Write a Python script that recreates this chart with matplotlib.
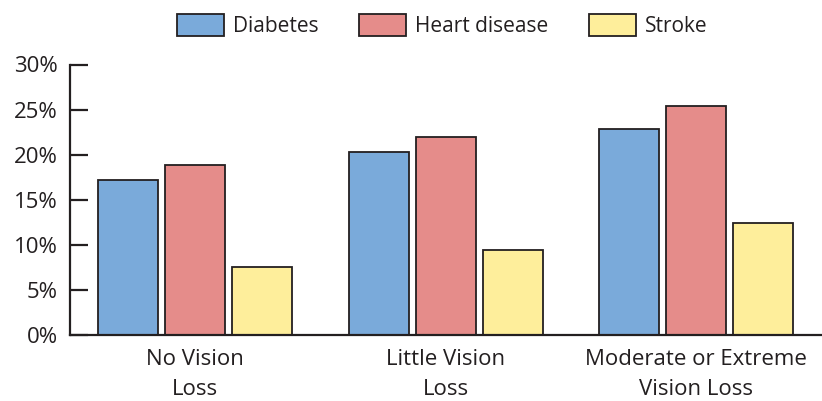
import matplotlib
matplotlib.use("Agg")
import matplotlib.pyplot as plt
import numpy as np

categories = ["No Vision\nLoss", "Little Vision\nLoss", "Moderate or Extreme\nVision Loss"]
series_names = ["Diabetes", "Heart disease", "Stroke"]
diabetes = [17.2, 20.3, 22.9]
heart = [18.9, 22.0, 25.4]
stroke = [7.5, 9.4, 12.4]
yticks = [0, 5, 10, 15, 20, 25, 30]
ytick_labels = ["0%", "5%", "10%", "15%", "20%", "25%", "30%"]

colors = ["#7AAADA", "#E58C8A", "#FEEE9B"]
edge = "#231F20"

plt.rcParams['font.family'] = ['Open Sans', 'DejaVu Sans']

fig = plt.figure(figsize=(8.22, 4.01), dpi=100)
ax = fig.add_axes([70/822, (401-335)/401, 1 - 70/822, (335-64.5)/401])

x = np.arange(len(categories))
w = 60/250.5
off = 67/250.5
handles = []
for i, (vals, name) in enumerate(zip([diabetes, heart, stroke], series_names)):
    b = ax.bar(x + (i-1)*off, vals, width=w, color=colors[i], edgecolor=edge,
               linewidth=1.3, label=name, zorder=2)
    handles.append(b)

ax.set_xlim(-0.5, 2.502)
ax.set_ylim(0, 30)
ax.set_yticks(yticks)
ax.set_yticklabels(ytick_labels, fontsize=16, color=edge)
ax.set_xticks(x)
ax.set_xticklabels(categories, fontsize=16, color=edge, linespacing=1.58)
ax.tick_params(axis='y', direction='in', length=13, width=1.6, color=edge, pad=9)
ax.tick_params(axis='x', length=0, pad=10)
for s in ['top', 'right']:
    ax.spines[s].set_visible(False)
for s in ['left', 'bottom']:
    ax.spines[s].set_linewidth(1.6)
    ax.spines[s].set_color(edge)
    ax.spines[s].set_zorder(3)

leg = fig.legend(handles=handles, labels=series_names, loc='upper center',
                 bbox_to_anchor=(0.538, 1.012), ncol=3, frameon=False, fontsize=15,
                 handlelength=2.25, handleheight=1.24, handletextpad=0.43,
                 columnspacing=1.95)
for t in leg.get_texts():
    t.set_color(edge)

fig.savefig("out.png", dpi=100)
